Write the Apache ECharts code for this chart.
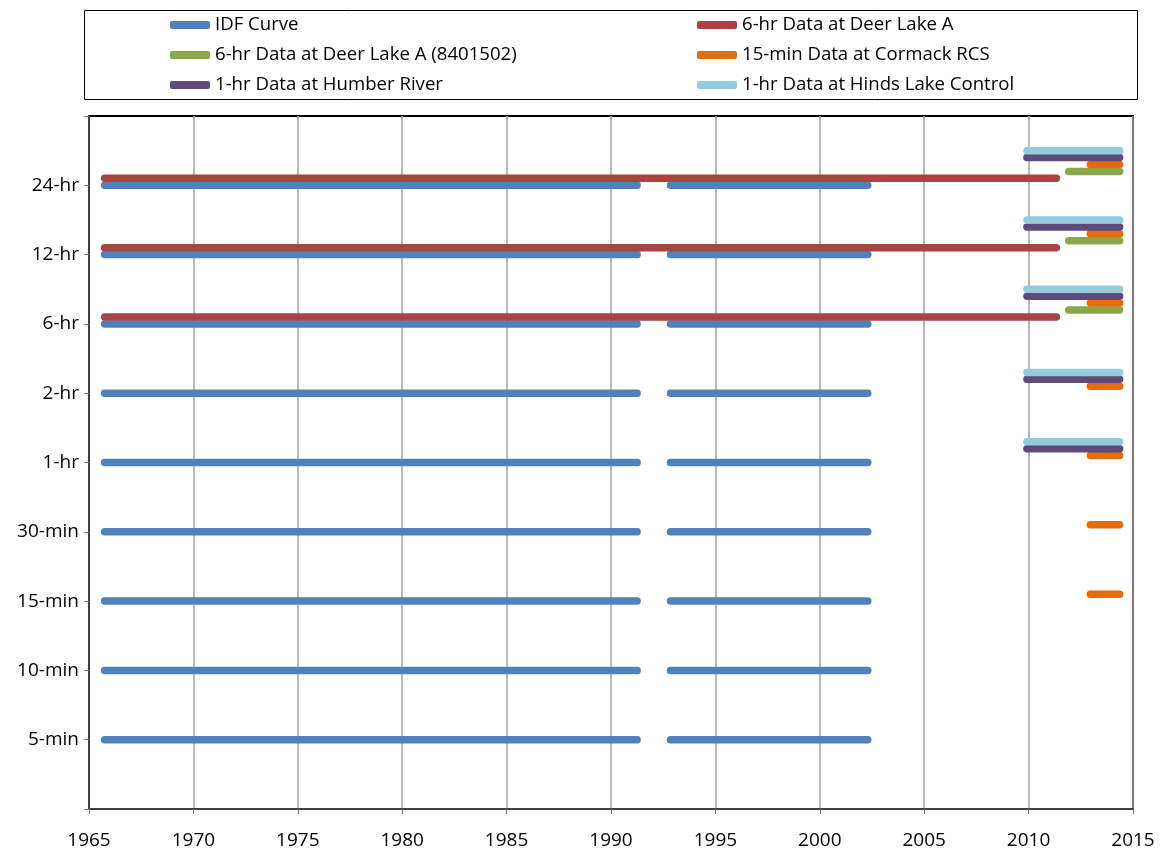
<!DOCTYPE html>
<html>
<head>
<meta charset="utf-8">
<script src="https://cdn.jsdelivr.net/npm/echarts@6/dist/echarts.min.js"></script>
<style>
  html, body { margin: 0; padding: 0; background: #fff; }
  #chart { width: 1164px; height: 850px; }
</style>
</head>
<body>
<div id="chart"></div>
<script>
// Duration levels on the vertical axis (1 = 5-min ... 9 = 24-hr)
const durationLabels = ['', '5-min', '10-min', '15-min', '30-min', '1-hr', '2-hr', '6-hr', '12-hr', '24-hr', ''];

// Record periods (decimal years) for each data source
const idfSpans = [[1965.75, 1991.25], [1992.85, 2002.3]];
const idfLevels = [1, 2, 3, 4, 5, 6, 7, 8, 9];

const deerLakeSpan = [1965.75, 2011.33];
const deerLakeLevels = [7.1, 8.1, 9.1];

const deerLake8401502Span = [2011.92, 2014.36];
const deerLake8401502Levels = [7.2, 8.2, 9.2];

const cormackSpan = [2012.96, 2014.36];
const cormackLevels = [3.1, 4.1, 5.1, 6.1, 7.3, 8.3, 9.3];

const humberSpan = [2009.92, 2014.36];
const humberLevels = [5.2, 6.2, 7.4, 8.4, 9.4];

const hindsSpan = [2009.92, 2014.36];
const hindsLevels = [5.3, 6.3, 7.5, 8.5, 9.5];

const xTicks = { min: 1965, max: 2015, step: 5 };

const seriesNames = [
  'IDF Curve',
  '6-hr Data at Deer Lake A',
  '6-hr Data at Deer Lake A (8401502)',
  '15-min Data at Cormack RCS',
  '1-hr Data at Humber River',
  '1-hr Data at Hinds Lake Control'
];
const seriesColors = ['#4f81bd', '#a94442', '#8aa84b', '#e46c0a', '#604a7b', '#93cddd'];

// Build one line series per source: each level gets its own segment, separated by nulls
function segments(spans, levels) {
  const out = [];
  levels.forEach(function (lv) {
    spans.forEach(function (sp) {
      out.push([sp[0], lv], [sp[1], lv], null);
    });
  });
  return out;
}

const seriesData = [
  segments(idfSpans, idfLevels),
  segments([deerLakeSpan], deerLakeLevels),
  segments([deerLake8401502Span], deerLake8401502Levels),
  segments([cormackSpan], cormackLevels),
  segments([humberSpan], humberLevels),
  segments([hindsSpan], hindsLevels)
];

const FONT = '"Open Sans", Lato, sans-serif';

const chart = echarts.init(document.getElementById('chart'), null, { renderer: 'canvas' });

const legendCommon = {
  orient: 'vertical',
  top: 14,
  itemWidth: 40,
  itemHeight: 8,
  itemGap: 8,
  icon: 'roundRect',
  selectedMode: false,
  textStyle: { fontFamily: FONT, fontSize: 18.6, color: '#000', lineHeight: 22 },
  padding: 0
};

chart.setOption({
  animation: false,
  backgroundColor: '#fff',
  graphic: [{
    type: 'rect',
    shape: { x: 84.5, y: 10.5, width: 1053, height: 89 },
    style: { fill: 'none', stroke: '#000', lineWidth: 1 },
    silent: true
  }],
  legend: [
    Object.assign({}, legendCommon, { left: 170, data: [seriesNames[0], seriesNames[2], seriesNames[4]] }),
    Object.assign({}, legendCommon, { left: 697, data: [seriesNames[1], seriesNames[3], seriesNames[5]] })
  ],
  grid: {
    left: 89, right: 31, top: 116, bottom: 40,
    show: true,
    borderColor: '#000',
    borderWidth: 2,
    backgroundColor: 'transparent'
  },
  xAxis: {
    type: 'value',
    min: xTicks.min,
    max: xTicks.max,
    interval: xTicks.step,
    axisLine: { show: true, lineStyle: { color: '#404040', width: 2 } },
    axisTick: { show: true, inside: false, length: 5, lineStyle: { color: '#808080' } },
    axisLabel: {
      fontFamily: FONT, fontSize: 19, color: '#000', margin: 22,
      formatter: function (v) { return String(v); }
    },
    splitLine: { show: true, lineStyle: { color: '#a0a0a0', width: 1.5 } }
  },
  yAxis: {
    type: 'value',
    min: 0,
    max: 10,
    interval: 1,
    axisLine: { show: true, lineStyle: { color: '#404040', width: 2 } },
    axisTick: { show: true, inside: false, length: 5, lineStyle: { color: '#808080' } },
    axisLabel: {
      fontFamily: FONT, fontSize: 19, color: '#000', margin: 10,
      formatter: function (v) { return durationLabels[Math.round(v)] || ''; }
    },
    splitLine: { show: false }
  },
  series: seriesNames.map(function (name, i) {
    return {
      name: name,
      type: 'line',
      data: seriesData[i],
      connectNulls: false,
      symbol: 'none',
      color: seriesColors[i],
      lineStyle: { color: seriesColors[i], width: 7.5, cap: 'round' },
      itemStyle: { color: seriesColors[i] },
      z: 2 + i
    };
  })
});
</script>
</body>
</html>
